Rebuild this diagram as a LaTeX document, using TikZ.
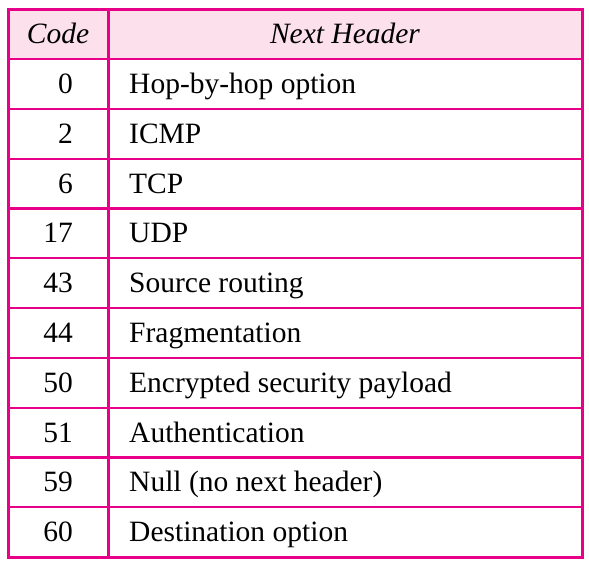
\documentclass[tikz,border=0pt]{standalone}
\usepackage{fontspec}
\setmainfont{Liberation Serif}
\definecolor{tablemagenta}{RGB}{232,0,136}
\definecolor{tablepink}{RGB}{252,224,236}

\tikzset{
    cellfont/.style={font=\fontsize{29.5}{35}\selectfont, inner sep=0pt},
    headcell/.style={cellfont, anchor=base, font=\fontsize{29.5}{35}\selectfont\itshape},
    codecell/.style={cellfont, anchor=base east},
    namecell/.style={cellfont, anchor=base west},
    gridline/.style={tablemagenta, line width=2.2pt},
    frameline/.style={tablemagenta, line width=3pt}
}

\begin{document}
\begin{tikzpicture}[x=1pt, y=-1pt]
    \useasboundingbox (0,0) rectangle (589,565);

    % Header row
    \fill[tablepink] (8,9.5) rectangle (582,59);
    \node[headcell] (codehead) at (58,43.8) {Code};
    \node[headcell] (namehead) at (345,43.8) {Next Header};

    % Body rows
    \foreach \c/\t [count=\i from 0] in {0/Hop-by-hop option, 2/ICMP, 6/TCP, 17/UDP,
        43/Source routing, 44/Fragmentation, 50/Encrypted security payload,
        51/Authentication, 59/{Null (no next header)}, 60/Destination option} {
        \node[codecell] (code\i) at (73,{93.5+49.8*\i}) {\c};
        \node[namecell] (name\i) at (129,{93.5+49.8*\i}) {\t};
    }

    % Grid
    \foreach \k in {0,...,9} {
        \draw[gridline] (8,{59+49.8*\k}) -- (582,{59+49.8*\k});
    }
    \draw[gridline] (108.5,9.5) -- (108.5,557);
    \draw[frameline] (8,9.5) rectangle (582,557);
\end{tikzpicture}
\end{document}
